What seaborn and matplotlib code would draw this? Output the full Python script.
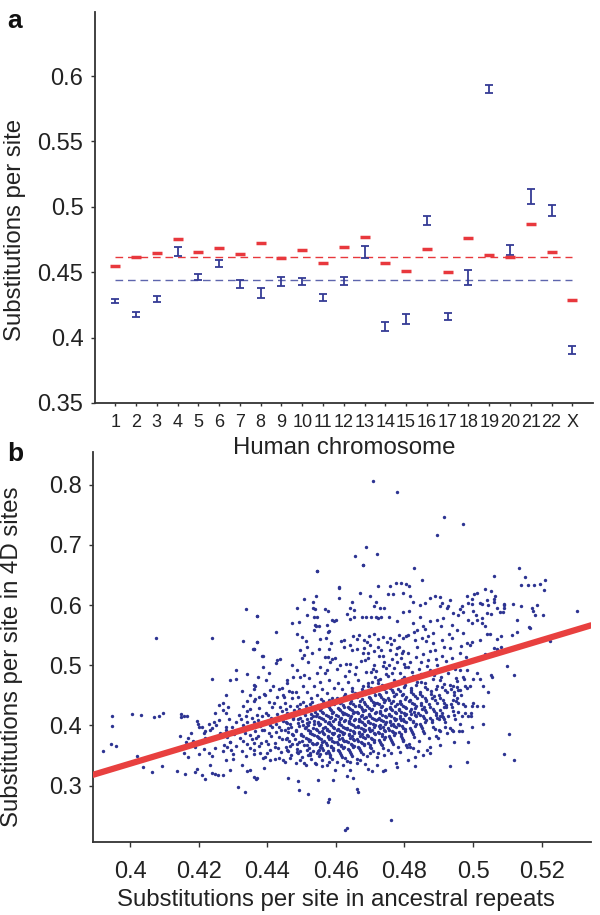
import numpy as np
import pandas as pd
import matplotlib
matplotlib.use('Agg')
import matplotlib.pyplot as plt
import seaborn as sns

sns.set_style('ticks')
plt.rcParams['font.family'] = ['Liberation Sans', 'DejaVu Sans']

# ---- panel a: substitutions per site by chromosome ----
chroms = [str(i) for i in range(1, 23)] + ['X']
# ancestral repeats (blue, mean +/- error)
ar_mean = [0.4279, 0.4175, 0.4294, 0.4658, 0.4462, 0.4567, 0.4411, 0.4343, 0.4427, 0.4429, 0.4307, 0.4434,
           0.4653, 0.4085, 0.4142, 0.4895, 0.4162, 0.4460, 0.5901, 0.4671, 0.5078, 0.4971, 0.3905]
ar_err = [0.0018, 0.0020, 0.0025, 0.0034, 0.0025, 0.0027, 0.0030, 0.0037, 0.0033, 0.0030, 0.0025, 0.0030,
          0.0048, 0.0034, 0.0040, 0.0032, 0.0027, 0.0057, 0.0034, 0.0036, 0.0059, 0.0045, 0.0027]
# 4D sites (red)
d4_mean = [0.4549, 0.4620, 0.4648, 0.4755, 0.4658, 0.4684, 0.4638, 0.4727, 0.4605, 0.4666, 0.4569, 0.4691,
           0.4773, 0.4572, 0.4511, 0.4679, 0.4498, 0.4760, 0.4628, 0.4613, 0.4872, 0.4658, 0.4289]
d4_genome = 0.4620
ar_genome = 0.4443

# ---- panel b: 4D vs ancestral repeats, values in thousandths ----
outlier_pts = [(470.9, 807), (477.9, 788), (491.6, 746), (497.2, 735), (489.5, 716), (468.9, 697), (465.6, 682),
               (472.1, 685), (467.9, 666), (454.4, 657), (482.8, 661), (485.0, 642), (506.0, 649), (513.3, 662),
               (515.2, 646), (521.1, 642), (514.0, 633), (516.0, 633), (517.8, 633), (519.6, 635), (520.7, 626),
               (530.3, 590), (522.5, 540), (460.8, 630)]

low_pts = [(462.7, 226), (463.2, 230), (476.0, 243), (457.6, 273), (458.0, 277), (449.3, 293), (452.0, 286),
           (466.1, 295), (466.6, 290), (431.5, 297), (433.6, 289), (446.0, 312), (448.9, 308), (454.7, 310),
           (459.1, 309), (463.2, 316), (465.1, 312), (436.8, 311), (439.1, 329), (459.8, 326), (457.9, 340),
           (455.9, 332), (454.0, 337), (450.6, 337), (449.6, 343), (446.7, 346), (444.7, 343), (443.3, 346),
           (440.8, 343), (438.9, 346), (437.9, 354), (436.0, 359), (462.2, 334), (464.2, 340), (467.1, 343),
           (469.5, 328), (470.5, 325), (472.0, 334), (473.7, 324), (474.4, 326), (477.6, 338), (477.8, 331),
           (468.5, 336), (464.2, 326), (466.1, 337), (462.7, 346), (470.0, 354), (472.0, 348), (474.0, 351),
           (476.0, 354), (478.7, 356), (480.7, 365), (479.7, 376), (457.0, 354), (455.0, 359), (452.5, 351),
           (448.6, 356), (445.7, 359), (442.3, 365), (439.9, 354)]

left_pts = [(392.0, 358), (394.6, 416), (394.6, 399), (394.5, 369), (396.0, 366), (400.7, 419), (403.2, 417),
            (407.0, 414), (408.3, 416), (409.7, 421), (402.0, 350), (403.9, 331), (406.3, 323), (407.6, 546),
            (423.8, 546), (433.8, 594), (437.0, 582), (433.0, 541), (437.0, 538), (436.0, 527), (431.0, 492),
            (424.0, 477), (434.0, 486), (429.0, 475), (431.0, 477), (436.0, 467), (436.2, 460), (435.0, 450),
            (432.5, 458), (428.0, 450), (437.5, 448), (427.0, 438), (426.0, 434), (428.5, 430), (427.0, 425),
            (433.0, 432), (434.0, 440), (435.0, 427), (434.2, 424), (436.0, 440), (424.7, 420), (428.0, 421),
            (415.0, 419), (415.6, 415), (416.7, 416), (414.8, 414), (419.5, 407), (419.7, 403), (421.0, 398),
            (422.0, 391), (421.7, 387), (423.0, 403), (424.0, 395), (425.0, 401), (426.0, 409), (409.3, 333),
            (414.5, 383), (415.8, 354), (417.0, 347), (417.0, 379), (418.5, 374), (419.0, 365), (420.0, 353),
            (413.6, 324), (416.0, 320), (419.5, 328), (419.0, 322), (421.0, 317), (422.0, 311), (423.4, 334),
            (424.0, 321), (424.7, 320), (425.6, 317), (427.0, 318), (429.0, 326), (421.6, 361), (423.0, 355),
            (424.0, 349), (424.7, 363), (427.0, 357), (428.3, 364), (428.0, 343), (430.0, 345), (434.0, 325),
            (435.0, 326), (436.0, 315), (437.0, 313), (432.5, 334), (433.7, 349), (427.5, 368), (429.2, 372),
            (431.0, 366), (432.8, 375), (434.1, 370), (435.6, 378), (428.4, 381), (430.3, 386), (432.0, 380),
            (433.5, 388), (435.0, 384), (436.3, 390), (427.9, 393), (429.6, 397), (431.4, 392), (433.0, 401),
            (434.6, 396), (430.8, 406), (432.4, 411), (434.0, 405), (435.5, 412), (428.9, 410), (431.7, 418),
            (433.9, 416), (429.5, 360), (432.5, 358), (434.9, 362), (426.8, 386), (436.0, 371), (430.1, 352),
            (416.2, 373), (417.9, 387), (420.1, 397), (421.8, 379), (423.2, 393), (424.6, 406), (426.2, 387),
            (427.9, 398), (429.0, 373), (430.1, 387)]

core_pts = [
    (436.2, 352), (437.5, 366), (438.1, 371), (436.8, 380), (437.3, 383), (438.4, 392), (436.5, 397), (437.9, 399),
    (436.1, 405), (437.2, 409), (438.6, 416), (436.9, 418), (437.6, 429), (436.4, 444),
    (439.3, 347), (440.8, 360), (440.1, 369), (439.6, 374), (441.2, 382), (440.4, 387), (439.1, 393), (441.5, 398),
    (440.7, 401), (439.8, 407), (441.0, 412), (440.2, 418), (439.5, 421), (441.3, 430), (440.6, 439), (439.2, 452),
    (442.4, 344), (443.9, 356), (443.1, 363), (442.2, 371), (444.3, 377), (443.5, 381), (442.7, 389), (444.1, 392),
    (443.3, 398), (442.5, 403), (444.6, 408), (443.0, 413), (442.9, 419), (444.4, 424), (443.7, 431), (442.1, 438),
    (444.8, 447), (443.4, 461),
    (445.2, 340), (446.9, 351), (446.1, 358), (445.5, 364), (447.3, 370), (446.4, 375), (445.8, 380), (447.6, 384),
    (446.2, 389), (445.1, 393), (447.0, 397), (446.7, 402), (445.4, 406), (447.4, 411), (446.0, 416), (445.7, 421),
    (447.8, 425), (446.5, 432), (445.3, 438), (447.1, 446), (446.3, 457), (445.9, 470),
    (448.3, 338), (450.2, 347), (449.1, 355), (448.7, 361), (450.6, 368), (449.4, 372), (448.1, 378), (450.4, 382),
    (449.8, 386), (448.5, 391), (450.9, 395), (449.2, 399), (448.9, 404), (450.1, 408), (449.6, 412), (448.2, 417),
    (450.7, 421), (449.3, 427), (448.6, 433), (450.3, 439), (449.0, 447), (448.4, 455), (450.5, 466), (449.7, 481),
    (451.2, 335), (452.8, 344), (451.9, 351), (453.4, 357), (452.1, 362), (451.5, 367), (453.0, 371), (452.6, 376),
    (451.3, 380), (453.7, 384), (452.4, 388), (451.8, 392), (453.2, 396), (452.0, 400), (451.6, 404), (453.5, 408),
    (452.9, 413), (451.1, 417), (453.8, 422), (452.3, 427), (451.4, 433), (453.1, 439), (452.7, 446), (451.7, 455),
    (453.6, 466), (452.2, 479),
    (454.3, 336), (455.9, 343), (455.1, 349), (454.6, 355), (456.4, 360), (455.4, 364), (454.2, 369), (456.1, 373),
    (455.7, 377), (454.8, 381), (456.6, 385), (455.2, 389), (454.5, 392), (456.3, 396), (455.0, 400), (454.9, 404),
    (456.8, 408), (455.6, 412), (454.1, 416), (456.2, 421), (455.3, 426), (454.7, 431), (456.5, 437), (455.8, 444),
    (454.4, 451), (456.0, 460), (455.5, 472), (454.6, 488),
    (457.4, 335), (458.9, 344), (458.2, 351), (457.6, 357), (459.3, 362), (458.5, 366), (457.1, 371), (459.0, 375),
    (458.7, 379), (457.8, 383), (459.5, 387), (458.1, 390), (457.3, 394), (459.2, 398), (458.4, 402), (457.9, 406),
    (459.7, 410), (458.6, 414), (457.2, 418), (459.1, 423), (458.3, 428), (457.7, 433), (459.4, 439), (458.8, 446),
    (457.5, 454), (459.6, 463), (458.0, 475), (457.4, 492),
    (460.3, 340), (461.8, 348), (461.1, 354), (460.6, 359), (462.3, 364), (461.4, 368), (460.2, 372), (462.0, 376),
    (461.7, 380), (460.8, 384), (462.5, 387), (461.2, 391), (460.5, 394), (462.2, 398), (461.0, 402), (460.9, 405),
    (462.7, 409), (461.6, 413), (460.1, 417), (462.4, 421), (461.3, 425), (460.7, 429), (462.1, 434), (461.5, 439),
    (460.4, 445), (462.6, 452), (461.9, 460), (460.6, 470), (462.8, 483), (461.2, 500),
    (463.2, 341), (464.7, 350), (464.0, 356), (463.5, 361), (465.2, 366), (464.3, 370), (463.1, 374), (465.0, 378),
    (464.6, 382), (463.7, 386), (465.4, 389), (464.1, 393), (463.4, 396), (465.1, 400), (463.9, 404), (463.8, 407),
    (465.6, 411), (464.5, 415), (463.0, 419), (465.3, 423), (464.2, 427), (463.6, 431), (465.0, 436), (464.4, 441),
    (463.3, 447), (465.5, 454), (464.8, 462), (463.5, 472), (465.7, 485), (464.1, 503),
    (466.3, 345), (467.8, 353), (467.1, 359), (466.6, 364), (468.3, 369), (467.4, 373), (466.2, 377), (468.0, 381),
    (467.7, 385), (466.8, 389), (468.5, 392), (467.2, 396), (466.5, 399), (468.2, 403), (467.0, 407), (466.9, 410),
    (468.7, 414), (467.6, 418), (466.1, 422), (468.4, 426), (467.3, 430), (466.7, 434), (468.1, 439), (467.5, 444),
    (466.4, 450), (468.6, 457), (467.9, 465), (466.6, 475), (468.8, 489), (467.2, 507),
    (469.2, 350), (470.7, 358), (470.0, 365), (469.5, 371), (471.2, 376), (470.3, 380), (469.1, 384), (471.0, 388),
    (470.6, 392), (469.7, 396), (471.4, 400), (470.1, 404), (469.4, 407), (471.1, 411), (469.9, 415), (469.8, 419),
    (471.6, 423), (470.5, 427), (469.0, 432), (471.3, 437), (470.2, 442), (469.6, 448), (471.0, 455), (470.4, 462),
    (469.3, 470), (471.5, 480), (470.8, 494), (469.5, 512),
    (472.3, 355), (473.8, 363), (473.1, 370), (472.6, 376), (474.3, 381), (473.4, 385), (472.2, 389), (474.0, 393),
    (473.7, 397), (472.8, 401), (474.5, 405), (473.2, 409), (472.5, 412), (474.2, 416), (473.0, 420), (472.9, 424),
    (474.7, 428), (473.6, 432), (472.1, 437), (474.4, 442), (473.3, 447), (472.7, 453), (474.1, 460), (473.5, 467),
    (472.4, 475), (474.6, 485), (473.9, 499), (472.6, 516),
    (475.3, 360), (476.8, 369), (476.1, 376), (475.6, 382), (477.3, 387), (476.4, 391), (475.2, 395), (477.0, 399),
    (476.7, 403), (475.8, 407), (477.5, 411), (476.2, 415), (475.5, 419), (477.2, 423), (476.0, 427), (475.9, 431),
    (477.7, 435), (476.6, 440), (475.1, 446), (477.4, 452), (476.3, 459), (475.7, 467), (477.1, 476), (476.5, 487),
    (475.4, 501), (477.6, 519),
    (478.2, 365), (479.7, 375), (479.0, 383), (478.5, 389), (480.2, 394), (479.3, 399), (478.1, 403), (479.9, 407),
    (479.6, 411), (478.7, 415), (480.4, 419), (479.1, 423), (478.4, 427), (480.1, 431), (478.9, 436), (478.8, 441),
    (480.6, 447), (479.5, 453), (478.0, 460), (480.3, 468), (479.2, 477), (478.6, 488), (480.0, 502), (479.4, 521),
    (481.3, 370), (482.8, 381), (482.1, 389), (481.6, 396), (483.3, 402), (482.4, 407), (481.2, 412), (483.0, 417),
    (482.7, 422), (481.8, 427), (483.5, 432), (482.2, 437), (481.5, 443), (483.2, 449), (482.0, 456), (481.9, 463),
    (483.7, 472), (482.6, 483), (481.1, 497), (483.4, 514),
    (484.2, 375), (485.7, 387), (485.0, 396), (484.5, 403), (486.2, 409), (485.3, 415), (484.1, 420), (485.9, 426),
    (485.6, 431), (484.7, 437), (486.4, 443), (485.1, 449), (484.4, 456), (486.1, 464), (484.9, 473), (484.8, 485),
    (486.6, 499), (485.5, 518),
    (487.3, 380), (488.8, 394), (488.1, 405), (487.6, 413), (489.3, 421), (488.4, 428), (487.2, 435), (489.0, 442),
    (488.7, 449), (487.8, 457), (489.5, 466), (488.2, 477), (487.5, 492), (489.2, 511),
    (490.2, 392), (491.7, 405), (491.0, 416), (490.5, 425), (492.2, 434), (491.3, 442), (490.1, 450), (491.9, 459),
    (491.6, 469), (490.7, 481), (492.4, 496), (491.1, 515),
    (493.3, 396), (494.8, 411), (494.1, 424), (493.6, 436), (495.3, 446), (494.4, 456), (493.2, 467), (495.0, 479),
    (494.7, 494), (493.8, 512),
    (496.2, 402), (497.7, 420), (497.0, 436), (496.5, 450), (498.2, 463), (497.3, 477), (496.1, 493), (497.9, 514),
    (452.0, 505), (455.5, 498), (459.7, 512), (462.9, 503), (466.0, 497), (468.4, 509), (471.2, 501), (474.6, 495),
    (477.9, 506), (480.2, 498), (447.3, 500), (450.1, 512), (463.8, 491), (470.3, 489), (476.3, 511), (482.1, 489),
    (484.7, 505), (487.4, 523), (456.8, 488), (460.4, 494)]

# second, interleaved pass over the densest part of the cloud
dense_pts = [
    (446.6, 366), (445.6, 377), (447.2, 386), (446.0, 395), (445.9, 404), (447.5, 413), (446.8, 419), (445.4, 428),
    (449.5, 358), (448.8, 370), (450.0, 375), (449.9, 384), (448.4, 393), (450.5, 401), (449.1, 410), (448.0, 419),
    (450.2, 424), (449.5, 436),
    (452.5, 354), (451.6, 359), (453.3, 369), (452.2, 374), (451.9, 378), (453.1, 386), (452.6, 390), (451.2, 398),
    (453.6, 402), (452.1, 406), (451.5, 411), (453.4, 415), (452.8, 419), (451.3, 424), (453.0, 430), (452.4, 436),
    (455.3, 352), (454.9, 358), (456.0, 362), (455.6, 367), (454.4, 371), (456.5, 375), (455.1, 379), (454.6, 383),
    (456.2, 387), (455.9, 391), (454.3, 394), (456.7, 398), (455.5, 402), (454.8, 406), (456.4, 410), (455.0, 414),
    (454.5, 419), (456.1, 423), (455.7, 429), (454.9, 434), (456.3, 441),
    (458.4, 347), (457.9, 354), (459.1, 360), (458.6, 364), (457.5, 368), (459.4, 373), (458.0, 377), (457.7, 381),
    (459.2, 385), (458.9, 388), (457.4, 392), (459.6, 396), (458.5, 400), (457.8, 404), (459.3, 408), (458.2, 412),
    (457.6, 416), (459.0, 420), (458.7, 425), (457.9, 430), (459.5, 436), (458.1, 443),
    (461.4, 351), (460.9, 357), (462.1, 362), (461.6, 366), (460.5, 370), (462.4, 374), (461.0, 378), (460.7, 382),
    (462.2, 386), (461.9, 389), (460.4, 392), (462.6, 396), (461.5, 400), (460.8, 403), (462.3, 407), (461.2, 411),
    (460.6, 415), (462.0, 419), (461.7, 423), (460.9, 427), (462.5, 431), (461.1, 437), (460.3, 442), (462.4, 449),
    (464.4, 353), (463.9, 359), (465.1, 364), (464.6, 368), (463.5, 372), (465.4, 376), (464.0, 380), (463.7, 384),
    (465.2, 388), (464.9, 391), (463.4, 394), (465.6, 398), (464.5, 402), (463.8, 405), (465.3, 409), (464.2, 413),
    (463.6, 417), (465.0, 421), (464.7, 425), (463.9, 429), (465.5, 433), (464.1, 438), (463.3, 444), (465.4, 450),
    (464.6, 457),
    (467.4, 356), (466.9, 362), (468.1, 367), (467.6, 371), (466.5, 375), (468.4, 379), (467.0, 383), (466.7, 387),
    (468.2, 390), (467.9, 394), (466.4, 397), (468.6, 401), (467.5, 405), (466.8, 408), (468.3, 412), (467.2, 416),
    (466.6, 420), (468.0, 424), (467.7, 428), (466.9, 432), (468.5, 436), (467.1, 441), (466.3, 447), (468.4, 453),
    (467.6, 460),
    (470.4, 362), (469.9, 368), (471.1, 373), (470.6, 378), (469.5, 382), (471.4, 386), (470.0, 390), (469.7, 394),
    (471.2, 398), (470.9, 402), (469.4, 405), (471.6, 409), (470.5, 413), (469.8, 417), (471.3, 421), (470.2, 425),
    (469.6, 429), (471.0, 434), (470.7, 439), (469.9, 445), (471.5, 451), (470.1, 458), (469.3, 466),
    (473.4, 367), (472.9, 373), (474.1, 378), (473.6, 383), (472.5, 387), (474.4, 391), (473.0, 395), (472.7, 399),
    (474.2, 403), (473.9, 407), (472.4, 410), (474.6, 414), (473.5, 418), (472.8, 422), (474.3, 426), (473.2, 430),
    (472.6, 435), (474.0, 439), (473.7, 444), (472.9, 450), (474.5, 456), (473.1, 463), (472.3, 471),
    (476.4, 373), (475.9, 379), (477.1, 384), (476.6, 389), (475.5, 393), (477.4, 397), (476.0, 401), (475.7, 405),
    (477.2, 409), (476.9, 413), (475.4, 417), (477.6, 421), (476.5, 425), (475.8, 429), (477.3, 433), (476.2, 438),
    (475.6, 443), (477.0, 449), (476.7, 455), (475.9, 463),
    (479.4, 379), (478.9, 386), (480.1, 391), (479.6, 396), (478.5, 401), (480.4, 405), (479.0, 409), (478.7, 413),
    (480.2, 417), (479.9, 421), (478.4, 425), (480.6, 429), (479.5, 433), (478.8, 438), (480.3, 444), (479.2, 450),
    (478.6, 457), (480.0, 464),
    (482.4, 385), (481.9, 392), (483.1, 399), (482.6, 405), (481.5, 410), (483.4, 415), (482.0, 419), (481.7, 424),
    (483.2, 429), (482.9, 435), (481.4, 440), (483.6, 446), (482.5, 452), (481.8, 459), (483.3, 467),
    (485.4, 391), (484.9, 399), (486.1, 406), (485.6, 412), (484.5, 417), (486.4, 423), (485.0, 428), (484.7, 434),
    (486.2, 440), (485.9, 446), (484.4, 452), (486.6, 460),
    (488.4, 398), (487.9, 409), (489.1, 417), (488.6, 424), (487.5, 431), (489.4, 438), (488.0, 446), (487.7, 453),
    (489.2, 461),
    (491.4, 410), (490.9, 421), (492.1, 430), (491.6, 438), (490.5, 446), (492.4, 455), (491.0, 464),
    (494.4, 418), (493.9, 430), (495.1, 441), (494.6, 451), (493.5, 461)]

# medium density above the core on the right-hand side
mid_pts = [(470.6, 472), (472.9, 478), (475.2, 483), (477.5, 470), (479.8, 481), (481.4, 476), (483.9, 480),
           (486.0, 470), (488.5, 484), (490.3, 476), (492.8, 488), (495.4, 474), (471.8, 490), (474.1, 505),
           (476.9, 495), (479.1, 512), (481.7, 505), (484.2, 494), (486.8, 508), (489.6, 500), (492.1, 507),
           (494.6, 499), (497.0, 505), (473.3, 525), (476.0, 536), (478.4, 531), (481.0, 520), (483.6, 530),
           (486.3, 540), (488.9, 526), (491.5, 531), (494.0, 545), (496.6, 532), (482.7, 555), (485.9, 560),
           (488.2, 553), (490.7, 566), (493.1, 552), (470.0, 534), (467.8, 520)]

upper_pts = [(468.0, 666), (454.4, 657), (461.0, 629), (472.3, 631), (475.8, 631), (477.6, 637), (479.1, 637),
             (480.5, 635), (481.3, 631), (467.1, 620), (469.9, 616), (475.2, 618), (476.8, 618), (479.7, 620),
             (450.8, 611), (454.2, 616), (460.9, 612), (453.4, 605), (453.2, 595), (454.0, 594), (457.7, 591),
             (456.8, 593), (464.6, 605), (464.2, 595), (465.3, 592), (471.7, 605), (471.0, 599), (473.0, 596),
             (474.1, 596), (437.0, 582), (448.7, 595), (447.1, 570), (449.3, 572), (451.5, 584), (453.5, 580),
             (454.6, 581), (453.8, 567), (458.8, 576), (460.0, 576), (459.6, 573), (463.2, 586), (464.1, 577),
             (465.4, 580), (467.5, 580), (468.7, 581), (470.3, 580), (471.7, 581), (472.3, 579), (473.2, 580),
             (475.6, 581), (477.8, 573), (479.7, 588), (481.2, 590), (453.5, 558), (454.1, 566), (455.2, 565),
             (457.5, 567), (457.8, 556), (458.0, 557), (442.6, 556), (437.0, 539), (436.0, 527), (438.6, 515),
             (438.8, 497), (442.8, 509), (443.8, 511), (448.8, 552), (450.2, 547), (451.4, 541), (449.6, 525),
             (451.5, 530), (453.0, 521), (450.8, 517), (455.3, 543), (457.0, 545), (455.1, 527), (458.6, 537),
             (458.0, 527), (457.8, 514), (458.8, 510), (458.3, 506), (456.9, 514), (461.4, 541), (462.5, 542),
             (462.4, 530), (464.2, 534), (464.9, 549), (466.1, 544), (466.8, 550), (468.3, 542), (469.2, 539),
             (469.7, 549), (471.0, 552), (472.2, 544), (473.7, 547), (474.9, 538), (475.8, 545), (477.1, 542),
             (478.5, 550), (479.7, 546), (480.9, 551), (464.7, 526), (466.3, 527), (468.1, 529), (469.5, 520),
             (471.0, 523), (472.4, 530), (473.9, 515), (475.8, 526), (477.8, 529), (479.7, 523), (435.9, 527),
             (438.7, 516), (437.4, 481), (436.5, 465), (439.7, 475), (440.6, 487), (442.6, 504), (441.8, 466),
             (444.2, 462), (445.7, 476), (447.6, 481), (448.6, 493), (450.6, 484), (447.2, 456), (444.7, 451),
             (442.8, 448), (440.8, 459), (439.4, 451)]

right_pts = [(510.0, 499), (512.0, 484), (511.4, 551), (512.7, 556), (516.4, 564), (518.8, 601), (518.1, 584),
             (510.5, 386), (509.0, 353), (512.0, 343), (502.8, 402), (498.6, 372), (498.2, 339), (493.3, 333),
             (483.1, 333), (509.0, 601), (507.9, 589), (506.9, 595), (504.0, 587), (502.5, 602), (504.5, 601),
             (500.1, 591), (500.9, 584), (499.6, 602), (498.1, 615), (496.7, 599), (497.2, 588), (506.1, 605),
             (506.4, 615), (502.0, 542), (504.0, 552), (505.0, 552), (499.7, 539), (498.1, 537), (499.1, 534),
             (502.5, 570), (503.5, 565), (501.1, 576), (499.6, 570), (498.4, 576), (507.1, 527), (503.5, 518),
             (505.1, 484), (505.4, 480), (502.0, 477), (503.0, 465), (500.1, 477), (501.3, 488), (499.1, 465),
             (497.7, 466), (496.2, 459), (495.2, 464), (501.1, 433), (502.8, 433), (499.6, 432), (497.7, 432),
             (496.7, 415), (499.4, 420), (499.4, 415), (495.7, 437), (494.3, 443), (493.8, 393), (494.3, 390),
             (496.7, 390), (490.4, 415), (491.3, 414), (489.4, 412), (490.2, 410), (491.8, 398), (492.3, 387),
             (490.4, 390), (489.2, 382), (489.9, 379), (490.4, 368), (487.5, 365), (486.5, 359), (487.5, 354),
             (485.5, 351), (481.6, 365), (482.6, 362), (480.6, 368), (483.1, 348), (481.1, 343), (484.0, 357),
             (479.7, 376), (494.3, 465), (495.7, 459), (497.2, 481), (498.1, 493), (481.6, 615), (482.6, 606),
             (484.5, 601), (486.0, 603), (487.5, 612), (488.9, 615), (490.4, 598), (490.9, 603), (492.3, 595),
             (493.3, 609), (494.3, 587), (495.7, 584), (484.5, 581), (482.6, 570), (483.6, 559), (485.5, 565),
             (487.5, 573), (489.4, 576), (491.3, 579), (493.8, 567), (495.2, 559), (497.2, 554), (480.6, 548),
             (483.1, 542), (485.0, 545), (487.0, 548), (488.4, 537), (490.9, 542), (493.3, 529), (496.2, 520),
             (508.3, 531), (504.4, 456), (499.6, 398), (498.5, 416), (496.0, 390), (495.6, 423), (492.7, 415),
             (491.5, 431), (494.4, 373), (500.0, 437), (506.0, 529), (507.0, 544), (508.3, 548), (512.7, 576),
             (502.7, 578), (508.6, 588), (505.3, 623), (513.9, 598), (517.2, 595), (503.5, 627), (500.3, 618),
             (504.0, 609), (506.0, 611), (502.1, 603), (508.9, 602), (511.8, 602), (505.3, 586), (508.9, 595),
             (517.6, 590), (520.5, 584), (516.5, 562), (490.4, 614), (492.8, 598), (496.2, 593), (498.4, 603),
             (499.6, 611), (501.1, 620)]

# regression line of 4D on ancestral repeats
fit_slope = 1.711
fit_intercept = -0.3479

all_pts = np.array(outlier_pts + low_pts + left_pts + core_pts + dense_pts + mid_pts
                   + upper_pts + right_pts) / 1000.0
df = pd.DataFrame({'ar': all_pts[:, 0], 'd4': all_pts[:, 1]})

blue = '#353b95'
red = '#e8383d'
ink = '#222222'

fig = plt.figure(figsize=(6, 9.15), dpi=100)
ax2 = fig.add_axes([0.155, 0.0801, 0.83, 0.4262])
ax1 = fig.add_axes([0.1575, 0.5596, 0.831, 0.4273])
ax2.set_facecolor('none')
ax1.set_facecolor('none')

# panel a
pos = np.arange(len(chroms))
ax1.hlines(d4_genome, pos[0], pos[-1], colors=red, linestyles=(0, (5.5, 3.5)), lw=1.0, zorder=1)
ax1.hlines(ar_genome, pos[0], pos[-1], colors='#5d65ad', linestyles=(0, (5.5, 3.5)), lw=1.0, zorder=1)
ax1.errorbar(pos, ar_mean, yerr=ar_err, fmt='none', ecolor=blue, elinewidth=1.3,
             capsize=3, capthick=1.3, zorder=3)
sns.scatterplot(x=pos, y=d4_mean, marker='_', s=50, color=red, linewidth=2.5, ax=ax1, zorder=4)
ax1.set_xlim(-1, len(chroms))
ax1.set_ylim(0.35, 0.649)
yt = [0.35, 0.4, 0.45, 0.5, 0.55, 0.6]
ax1.set_yticks(yt)
ax1.set_yticklabels([f'{t:g}' for t in yt], fontsize=17, color=ink)
ax1.set_xticks(pos)
ax1.set_xticklabels(chroms, fontsize=13, color=ink)
ax1.tick_params(axis='x', length=2, width=1, pad=6, color='#333333')
ax1.tick_params(axis='y', length=3, width=1, pad=5, color='#333333')
ax1.set_xlabel('Human chromosome', fontsize=17.3, color=ink, va='top')
ax1.set_ylabel('Substitutions per site', fontsize=17.3, color=ink)
ax1.xaxis.set_label_coords(0.5, -0.087)
ax1.yaxis.set_label_coords(-0.138, 0.442)

# panel b
sns.scatterplot(data=df, x='ar', y='d4', s=6, color='#2d3492', linewidth=0, ax=ax2, zorder=2)
ax2.set_xlim(0.3892, 0.5344)
ax2.set_ylim(0.2068, 0.855)
lx = np.array(ax2.get_xlim())
sns.lineplot(x=lx, y=fit_intercept + fit_slope * lx, color='#e8403f', lw=4.5, ax=ax2, zorder=3)
xt = [0.4, 0.42, 0.44, 0.46, 0.48, 0.5, 0.52]
ax2.set_xticks(xt)
ax2.set_xticklabels([f'{t:g}' for t in xt], fontsize=17, color=ink)
yt2 = [0.3, 0.4, 0.5, 0.6, 0.7, 0.8]
ax2.set_yticks(yt2)
ax2.set_yticklabels([f'{t:g}' for t in yt2], fontsize=17, color=ink)
ax2.tick_params(axis='x', length=3.6, width=1, pad=10, color='#333333')
ax2.tick_params(axis='y', length=3, width=1, pad=5, color='#333333')
ax2.set_xlabel('Substitutions per site in ancestral repeats', fontsize=17.3, color=ink, va='top')
ax2.set_ylabel('Substitutions per site in 4D sites', fontsize=17.3, color=ink)
ax2.xaxis.set_label_coords(0.488, -0.122)
ax2.yaxis.set_label_coords(-0.1396, 0.475)

for ax in (ax1, ax2):
    sns.despine(ax=ax)
    for side in ('left', 'bottom'):
        ax.spines[side].set_linewidth(1.3)
        ax.spines[side].set_color('#333333')

fig.text(7 / 600, 1 - 28 / 915, 'a', fontsize=19, fontweight='bold', va='baseline', color='#111111')
fig.text(7 / 600, 1 - 461 / 915, 'b', fontsize=19, fontweight='bold', va='baseline', color='#111111')

fig.savefig('out.png', dpi=100, facecolor='white')
